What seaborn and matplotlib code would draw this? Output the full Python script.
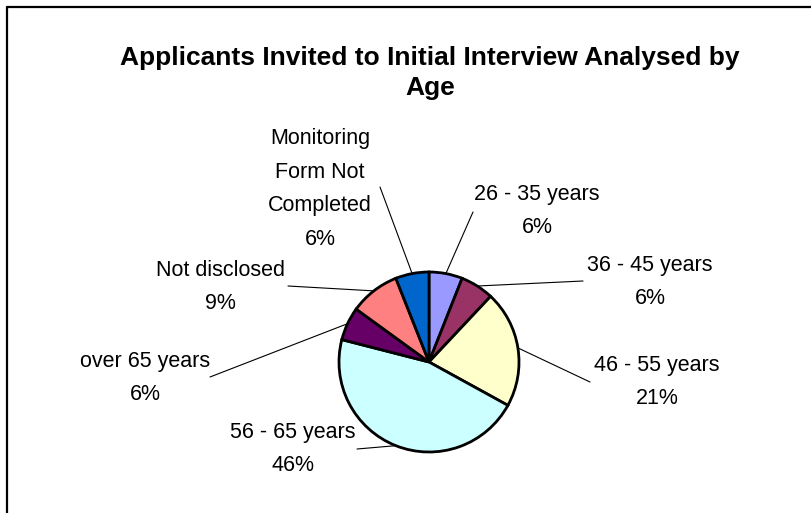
import numpy as np
import seaborn as sns
import matplotlib.pyplot as plt
from matplotlib.lines import Line2D

# data, clockwise from 12 o'clock
groups = ['26 - 35 years', '36 - 45 years', '46 - 55 years', '56 - 65 years',
          'over 65 years', 'Not disclosed', 'Monitoring\nForm Not\nCompleted']
shares = [6, 6, 21, 46, 6, 9, 6]
colours = ['#9999FF', '#993366', '#FFFFCC', '#CCFFFF', '#660066', '#FF8080', '#0066CC']

# label layout in pixels (text centre, end of leader line)
label_pos = [(537, 211), (650, 282), (657, 382), (293, 449), (145, 378), (220, 287), (320, 189)]
line_end = [(473, 212), (583, 281), (590, 382), (357, 449), (210, 377), (288, 286), (380, 187)]

sns.set_theme(style='white')
plt.rcParams['font.family'] = ['Liberation Sans', 'DejaVu Sans']

W, H = 811, 513
cx, cy, r = 429, 362, 90

fig = plt.figure(figsize=(W / 100, H / 100), dpi=100)
ax = fig.add_axes([0, 0, 1, 1])

wedges, _ = ax.pie(shares, colors=colours, startangle=90, counterclock=False,
                   center=(cx, H - cy), radius=r,
                   wedgeprops=dict(edgecolor='black', linewidth=2.0))
ax.set_xlim(0, W)
ax.set_ylim(0, H)
ax.set_aspect('equal')
ax.axis('off')

for w, name, val, (tx, ty), (lx, ly) in zip(wedges, groups, shares, label_pos, line_end):
    mid = np.deg2rad((w.theta1 + w.theta2) / 2)
    sx = cx + r * np.cos(mid)
    sy = (H - cy) + r * np.sin(mid)
    ax.plot([sx, lx], [sy, H - ly], color='black', linewidth=0.8)
    ax.text(tx, H - ty, f'{name}\n{val}%', ha='center', va='center',
            fontsize=15.5, linespacing=1.8, color='black')

ax.text(430, H - 73, 'Applicants Invited to Initial Interview Analysed by\nAge',
        ha='center', va='center', fontsize=19, fontweight='bold',
        linespacing=1.32, color='black')

# chart frame (left and top edges visible)
fig.add_artist(Line2D([7 / W, 7 / W], [0, 1 - 7 / H], color='black', linewidth=1.6))
fig.add_artist(Line2D([7 / W, 1], [1 - 7 / H, 1 - 7 / H], color='black', linewidth=1.6))

fig.savefig('out.png', dpi=100)
